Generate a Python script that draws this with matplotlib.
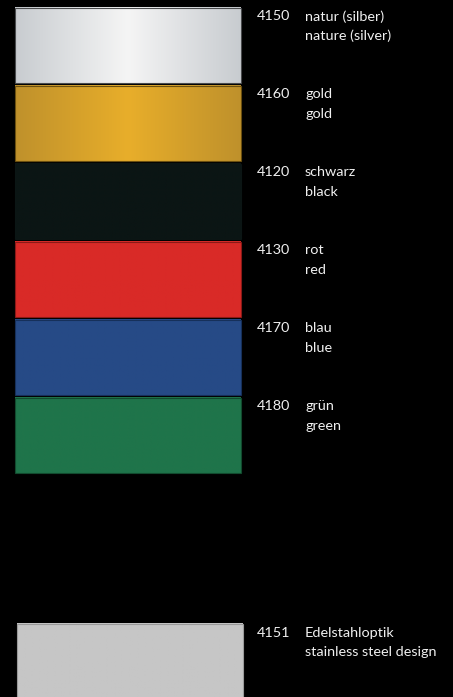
import matplotlib
matplotlib.use("Agg")
import matplotlib.pyplot as plt
import numpy as np
from matplotlib.colors import LinearSegmentedColormap

codes = ["4150", "4160", "4120", "4130", "4170", "4180", "4151"]
names_de = ["natur (silber)", "gold", "schwarz", "rot", "blau", "grün", "Edelstahloptik"]
names_en = ["nature (silver)", "gold", "black", "red", "blue", "green", "stainless steel design"]
slots = [0, 1, 2, 3, 4, 5, 7.9]
edge_colors = ["#c8ccd0", "#bf912c", "#0b1514", "#d92a27", "#264a86", "#1f744a", "#c6c6c6"]
center_colors = ["#f5f5f5", "#e8ae2a", "#0b1514", "#d92a27", "#264a86", "#1f744a", "#c6c6c6"]
border_colors = ["#4a4c4e", "#6a4f10", "#0b1514", "#8a1a18", "#16305a", "#124a2e", "#9a9a9a"]

W, H = 453, 697
fig = plt.figure(figsize=(W / 100, H / 100), dpi=100, facecolor="black")
ax = fig.add_axes([0, 0, 1, 1])
ax.set_facecolor("black")
ax.set_xlim(0, W)
ax.set_ylim(H, 0)
ax.axis("off")

pitch = 78
top0 = 7.5
sw_h = 75.5
x0, x1 = 15, 241
font = dict(color="#f0f0f0", fontsize=10.4, family=["Lato", "DejaVu Sans"],
            va="center", ha="left")

for i, code in enumerate(codes):
    top = top0 + slots[i] * pitch
    xs0 = x0 + (2 if i == 6 else 0)
    xs1 = x1 + (2 if i == 6 else 0)
    cmap = LinearSegmentedColormap.from_list(
        "g%d" % i, [edge_colors[i], center_colors[i], edge_colors[i]])
    grad = np.linspace(0, 1, 256)[None, :]
    ax.imshow(grad, cmap=cmap, extent=(xs0, xs1, top + sw_h, top),
              aspect="auto", interpolation="bilinear", zorder=1)
    ax.add_patch(plt.Rectangle((xs0, top), xs1 - xs0, sw_h, fill=False,
                               edgecolor=border_colors[i], linewidth=0.8, zorder=2))
    ax.text(257, top + 9, code, **font)
    ax.text(305, top + 9, names_de[i], **font)
    ax.text(305, top + 28, names_en[i], **font)

fig.savefig("out.png", dpi=100, facecolor="black")
